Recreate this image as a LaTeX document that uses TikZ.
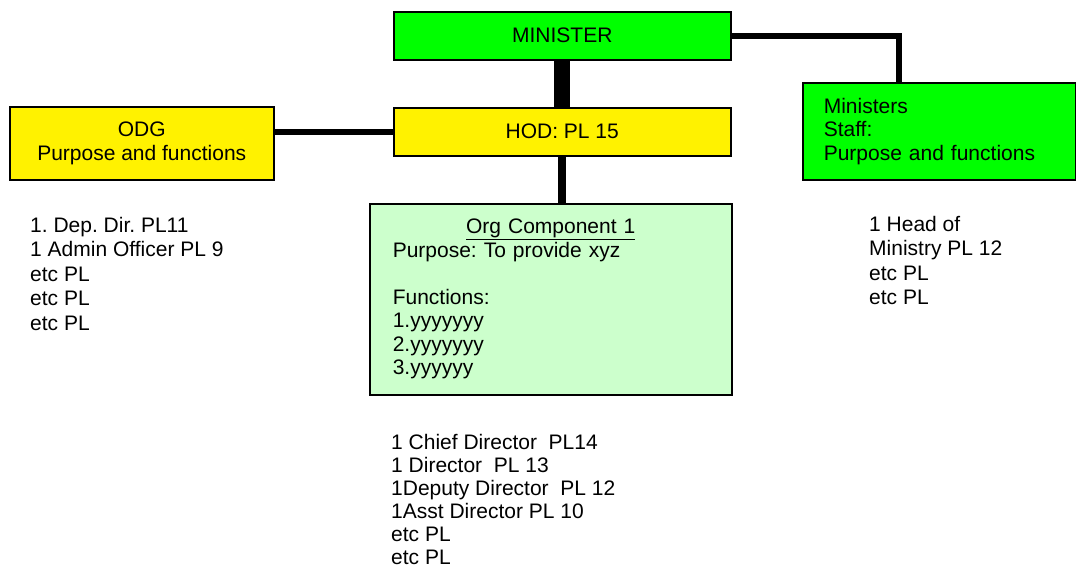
\documentclass[tikz,border=0pt]{standalone}
\usepackage{fontspec}
\setmainfont{Liberation Sans}
\frenchspacing
\definecolor{palegreen}{RGB}{204,255,204}

\begin{document}
\begin{tikzpicture}[x=1pt,y=-1pt,
  box/.style={draw=black, line width=1.5pt, inner sep=0pt, anchor=north west,
    font=\fontsize{21}{23.5}\selectfont},
  greenbox/.style={box, fill=green},
  yellowbox/.style={box, fill=yellow},
  orgbox/.style={box, fill=palegreen},
  stafflist/.style={inner sep=0pt, anchor=north west, align=left,
    font=\fontsize{21}{24.5}\selectfont},
  link/.style={line width=6pt}]
\useasboundingbox (0,0) rectangle (1076,573);

% Boxes of the chart
\node[greenbox, minimum width=337pt, minimum height=48pt] (minister) at (393,11) {MINISTER};
\node[yellowbox, minimum width=337pt, minimum height=48pt] (hod) at (393,107) {HOD: PL 15};
\node[yellowbox, minimum width=264pt, minimum height=73pt, align=center] (odg) at (9,106)
  {ODG\\Purpose and functions};
\node[greenbox, minimum width=273pt, minimum height=97pt, text width=231pt, align=left] (staff) at (802,82)
  {Ministers\\Staff:\\Purpose and functions};
\node[orgbox, minimum width=362pt, minimum height=191pt, text width=316pt, align=left] (org) at (369,203)
  {\makebox[316pt]{\underline{Org Component 1}}\\
   Purpose: To provide xyz\\
   \mbox{}\\
   Functions:\\
   1.yyyyyyy\\
   2.yyyyyyy\\
   3.yyyyyy};

% Posts under each box
\node[stafflist] (odgposts) at (30,217)
  {1. Dep. Dir. PL11\\1 Admin Officer PL 9\\etc PL\\etc PL\\etc PL};
\node[stafflist] (staffposts) at (869,216)
  {1 Head of\\Ministry PL 12\\etc PL\\etc PL};
\node[stafflist, font=\fontsize{21}{23}\selectfont] (orgposts) at (391,434)
  {1 Chief Director\ \ PL14\\1 Director\ \ PL 13\\1Deputy Director\ \ PL 12\\1Asst Director PL 10\\etc PL\\etc PL};

% Connectors
\draw[line width=16pt] (minister.south) -- (hod.north);
\draw[line width=8pt] (hod.south) -- (hod.south |- org.north);
\draw[link] (hod.west) -- (odg.east |- hod.west);
\draw[link] (minister.east) -| ([xshift=-40.5pt]staff.north);
\end{tikzpicture}
\end{document}
